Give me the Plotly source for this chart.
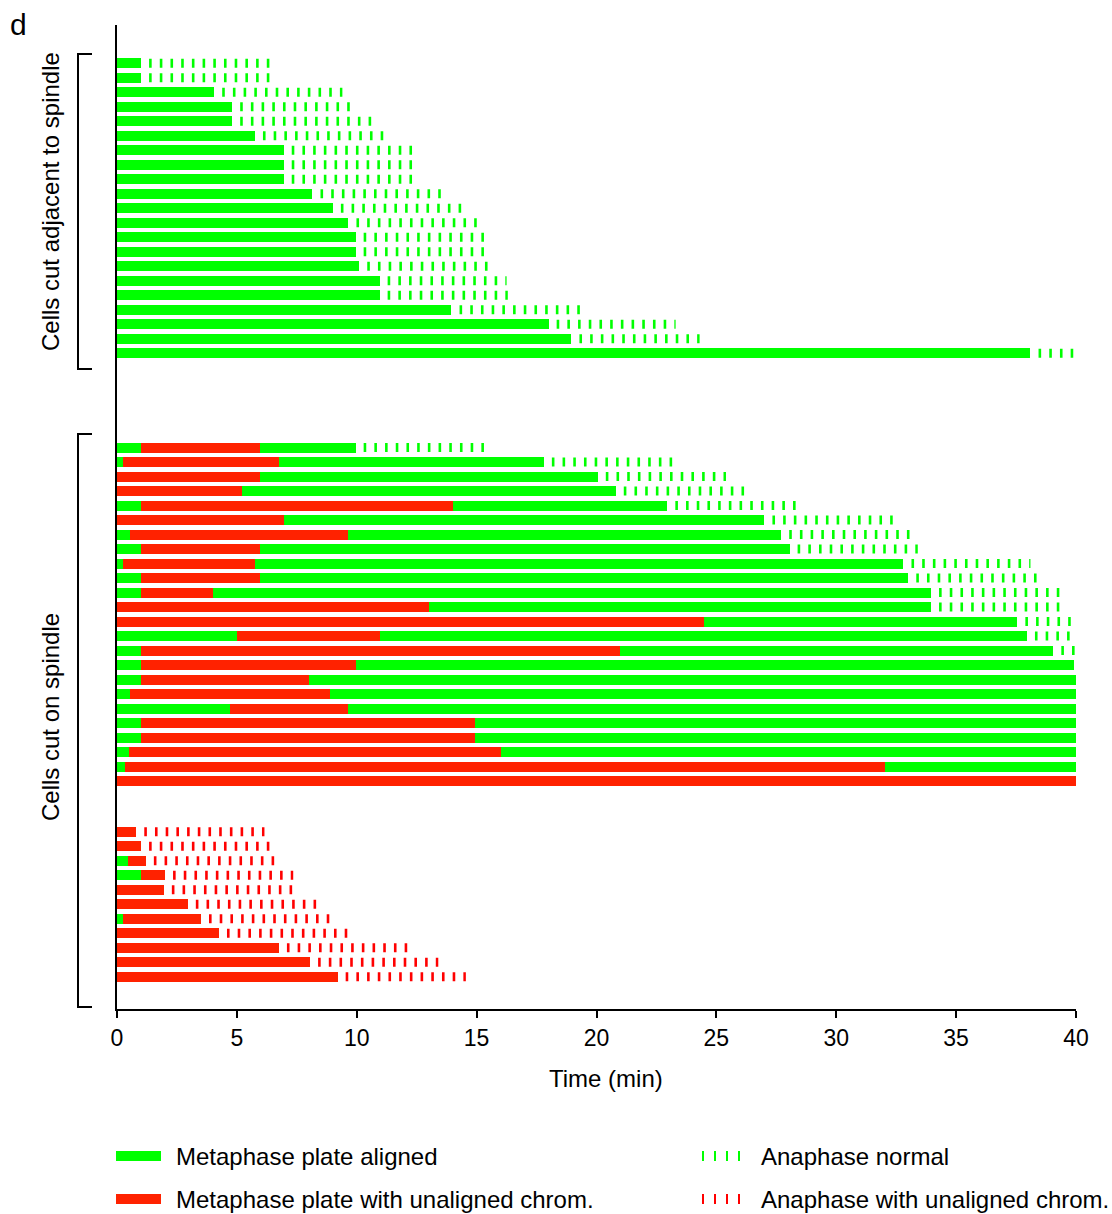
import plotly.graph_objects as go

# ---------------- data (minutes after the cut) ----------------
# Cells cut adjacent to the spindle: aligned metaphase from t=0, then normal anaphase
adj_metaphase_end = [1.0, 1.0, 4.05, 4.8, 4.8, 5.75, 6.95, 6.95, 6.95, 8.15, 9.0,
                     9.65, 9.95, 9.95, 10.1, 10.95, 10.95, 13.95, 18.0, 18.95, 38.1]
adj_anaphase_end = [6.45, 6.45, 9.4, 9.75, 10.7, 11.25, 12.4, 12.4, 12.4, 13.55, 14.4,
                    15.1, 15.4, 15.4, 15.55, 16.25, 16.3, 19.35, 23.3, 24.3, 40.0]

# Cells cut on the spindle, normal anaphase (or still in metaphase at 40 min)
# A = metaphase plate aligned, U = metaphase plate with unaligned chromosomes
on_states = ["AUA", "AUA", "UA", "UA", "AUA", "UA", "AUA", "AUA", "AUA", "AUA",
             "AUA", "UA", "UA", "AUA", "AUA", "AUA", "AUA", "AUA", "AUA", "AUA",
             "AUA", "AUA", "AUA", "U"]
on_bounds = [[1.0, 5.95, 9.95], [0.25, 6.75, 17.8], [5.95, 20.05], [5.2, 20.8],
             [1.0, 14.0, 22.95], [6.95, 27.0], [0.55, 9.65, 27.7], [1.0, 5.95, 28.05],
             [0.25, 5.75, 32.8], [1.0, 5.95, 33.0], [1.0, 4.0, 33.95], [13.0, 33.95],
             [24.5, 37.55], [5.0, 10.95, 37.95], [1.0, 21.0, 39.05], [1.0, 9.95, 39.9],
             [1.0, 8.0, 40.0], [0.55, 8.9, 40.0], [4.7, 9.65, 40.0], [1.0, 14.95, 40.0],
             [1.0, 14.95, 40.0], [0.5, 16.0, 40.0], [0.35, 32.05, 40.0], [40.0]]
on_anaphase_end = [15.35, 23.2, 25.4, 26.3, 28.4, 32.4, 33.15, 33.4, 38.1, 38.4,
                   39.35, 39.4, 39.9, 39.8, 40.0, None, None, None, None, None,
                   None, None, None, None]

# Cells cut on the spindle, anaphase with unaligned chromosomes
lag_states = ["U", "U", "AU", "AU", "U", "U", "AU", "U", "U", "U", "U"]
lag_bounds = [[0.8], [1.0], [0.45, 1.2], [1.0, 2.0], [1.95], [2.95], [0.25, 3.5],
              [4.25], [6.75], [8.05], [9.2]]
lag_anaphase_end = [6.15, 6.4, 6.65, 7.35, 7.35, 8.45, 8.9, 9.65, 12.15, 13.4, 14.55]

x_ticks = [0, 5, 10, 15, 20, 25, 30, 35, 40]

# ---------------- styling ----------------
GREEN = "#00ff00"
RED_BAR = "#ff2200"
RED_DASH = "#ff0000"
FONT = "Liberation Sans, Arial, sans-serif"
ANA_DASH = "0px,8.1px,2.6px,0px"      # gap first, then a short tick
BAR_W = 0.69
GROUP_OFFSET = {"adj": 0.0, "on": 26.5, "lag": 53.0}

W, H = 1112, 1214
ML, MR, MT, MB = 117, 36, 25, 205


def px(x):
    return (x - ML) / (W - ML - MR)


def py(y):
    return (H - MB - y) / (H - MT - MB)


bars = {"A": {"y": [], "base": [], "x": []}, "U": {"y": [], "base": [], "x": []}}
ana = []


def add_row(y, states, bounds, ana_end, ana_color):
    start = 0.0
    for s, b in zip(states, bounds):
        bars[s]["y"].append(y)
        bars[s]["base"].append(start)
        bars[s]["x"].append(b - start)
        start = b
    if ana_end is not None:
        ana.append((y, start, ana_end, ana_color))


for i, (m, a) in enumerate(zip(adj_metaphase_end, adj_anaphase_end)):
    add_row(GROUP_OFFSET["adj"] + i, "A", [m], a, GREEN)
for i, (s, b, a) in enumerate(zip(on_states, on_bounds, on_anaphase_end)):
    add_row(GROUP_OFFSET["on"] + i, s, b, a, GREEN)
for i, (s, b, a) in enumerate(zip(lag_states, lag_bounds, lag_anaphase_end)):
    add_row(GROUP_OFFSET["lag"] + i, s, b, a, RED_DASH)

fig = go.Figure()
for key, col in (("A", GREEN), ("U", RED_BAR)):
    fig.add_trace(go.Bar(
        orientation="h", y=bars[key]["y"], x=bars[key]["x"], base=bars[key]["base"],
        width=BAR_W, marker=dict(color=col, line=dict(width=0)), showlegend=False,
    ))
for y, x0, x1, col in ana:
    fig.add_trace(go.Scatter(
        x=[x0, x1], y=[y, y], mode="lines",
        line=dict(color=col, width=9, dash=ANA_DASH), showlegend=False,
        hoverinfo="skip",
    ))

shapes = []
# group brackets
for ytop, ybot in ((54, 369), (434, 1007)):
    shapes.append(dict(
        type="path", xref="paper", yref="paper",
        path=f"M {px(92)},{py(ytop)} L {px(78)},{py(ytop)} L {px(78)},{py(ybot)} L {px(92)},{py(ybot)}",
        line=dict(color="black", width=2),
    ))
# legend swatches
shapes.append(dict(type="rect", xref="paper", yref="paper", x0=px(116), x1=px(161),
                   y0=py(1161), y1=py(1151), fillcolor=GREEN, line=dict(width=0)))
shapes.append(dict(type="rect", xref="paper", yref="paper", x0=px(116), x1=px(161),
                   y0=py(1204), y1=py(1194), fillcolor=RED_BAR, line=dict(width=0)))
shapes.append(dict(type="line", xref="paper", yref="paper", x0=px(702), x1=px(749),
                   y0=py(1156), y1=py(1156), line=dict(color=GREEN, width=10, dash="2px,10px")))
shapes.append(dict(type="line", xref="paper", yref="paper", x0=px(702), x1=px(749),
                   y0=py(1199), y1=py(1199), line=dict(color=RED_DASH, width=10, dash="2px,10px")))

annotations = [
    dict(text="d", x=px(18), y=py(24), xref="paper", yref="paper", showarrow=False,
         font=dict(size=30, family=FONT, color="black"), xanchor="center", yanchor="middle"),
    dict(text="Cells cut adjacent to spindle", x=px(50), y=py(202), xref="paper", yref="paper",
         showarrow=False, textangle=-90, font=dict(size=24, family=FONT, color="black"),
         xanchor="center", yanchor="middle"),
    dict(text="Cells cut on spindle", x=px(50), y=py(717), xref="paper", yref="paper",
         showarrow=False, textangle=-90, font=dict(size=24, family=FONT, color="black"),
         xanchor="center", yanchor="middle"),
    # x-axis title
    dict(text="Time (min)", x=px(606), y=py(1078), xref="paper", yref="paper",
         showarrow=False, xanchor="center", yanchor="middle",
         font=dict(size=24, family=FONT, color="black")),
]
for label, xl, yl in (("Metaphase plate aligned", 174, 1156),
                      ("Metaphase plate with unaligned chrom.", 174, 1199),
                      ("Anaphase normal", 759, 1156),
                      ("Anaphase with unaligned chrom.", 759, 1199)):
    annotations.append(dict(text=label, x=px(xl), y=py(yl), xref="paper", yref="paper",
                            showarrow=False, xanchor="left", yanchor="middle",
                            font=dict(size=24, family=FONT, color="black")))

fig.update_layout(
    width=W, height=H,
    margin=dict(l=ML, r=MR, t=MT, b=MB, pad=0),
    paper_bgcolor="white", plot_bgcolor="white",
    barmode="overlay", bargap=0,
    font=dict(family=FONT, color="black"),
    xaxis=dict(
        range=[0, 40], tickvals=x_ticks, ticktext=[str(v) for v in x_ticks],
        ticks="outside", ticklen=7, tickwidth=2, tickcolor="black",
        showline=True, linewidth=2, linecolor="black",
        showgrid=False, zeroline=False, tickfont=dict(size=23, family=FONT),
    ),
    yaxis=dict(
        range=[65.22, -2.64], showline=True, linewidth=2, linecolor="black",
        showticklabels=False, ticks="", showgrid=False, zeroline=False,
    ),
    shapes=shapes, annotations=annotations,
)

fig.write_html("out.html")
